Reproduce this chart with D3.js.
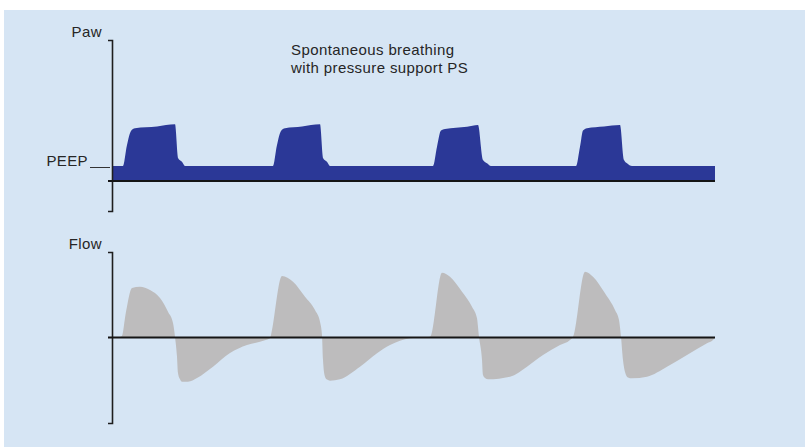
<!DOCTYPE html>
<html>
<head>
<meta charset="utf-8">
<script src="https://cdn.jsdelivr.net/npm/d3@7"></script>
<style>
  html, body { margin: 0; padding: 0; background: #ffffff; }
  svg { display: block; }
  text { font-family: "Liberation Sans", Arial, sans-serif; fill: #262626; letter-spacing: 0.4px; }
</style>
</head>
<body>
<svg id="chart" width="805" height="447"></svg>
<script>
// ---- Data (time in s, pressure in cmH2O, flow in L/min) ----
const titleLines = ["Spontaneous breathing", "with pressure support PS"];
const pawLabel = "Paw";
const flowLabel = "Flow";
const peepLabel = "PEEP";
const peepValue = 5;
const timeDomain = [0, 6.03];
const pawDomain = [-10, 47];
const flowDomain = [-60, 60];

const pawTime = [0, 0.11, 0.15, 0.19, 0.23, 0.45, 0.63, 0.66, 0.70, 0.73,
  1.61, 1.65, 1.69, 1.73, 1.90, 2.08, 2.11, 2.15, 2.18,
  3.21, 3.25, 3.29, 3.33, 3.55, 3.66, 3.71, 3.75, 3.79,
  4.64, 4.68, 4.71, 4.75, 4.92, 5.08, 5.12, 5.15, 5.20, 6.03];
const pawValues = [5, 5, 12, 16.7, 17.6, 18.2, 18.9, 7.7, 6.4, 5,
  5, 12, 16.7, 17.6, 18.2, 18.9, 7.7, 6.4, 5,
  5, 11.4, 16.8, 17.3, 18.1, 18.7, 7, 5.9, 5,
  5, 11.4, 16.8, 17.6, 18.2, 18.7, 7, 5.9, 5, 5];

const flowTime = [0, 0.08, 0.10, 0.14, 0.20, 0.28, 0.38, 0.48, 0.56, 0.61, 0.63, 0.65, 0.66, 0.68, 0.70, 0.76, 0.85, 1.01, 1.18, 1.35, 1.48, 1.58,
  1.59, 1.70, 1.81, 1.93, 2.03, 2.08, 2.10, 2.11, 2.13, 2.15, 2.18, 2.28, 2.48, 2.65, 2.78, 2.88, 2.98, 3.10,
  3.18, 3.30, 3.38, 3.50, 3.60, 3.65, 3.67, 3.70, 3.71, 3.73, 3.76, 3.98, 4.15, 4.31, 4.48, 4.58,
  4.61, 4.73, 4.81, 4.93, 5.03, 5.07, 5.09, 5.11, 5.14, 5.16, 5.20, 5.35, 5.55, 5.75, 5.95, 6.01, 6.03];
const flowValues = [0, 0.3, 1.0, 18, 34.7, 35.6, 33.3, 27.7, 18.1, 10.2, 0.6, -13.5, -24.9, -29.3, -31.0, -31.0, -28.4, -20.5, -10.9, -5.3, -2.9, -0.6,
  1.8, 43.2, 39.2, 28.6, 19.3, 11.1, 1.8, -15.8, -27.5, -29.5, -30.3, -29.3, -20.5, -11.1, -5.3, -2.3, -0.5, 0,
  0.6, 45.5, 42.7, 32.1, 21.6, 13.5, 0.6, -15.8, -26.3, -28.4, -29.3, -27.5, -20.5, -12.3, -5.3, -1.8,
  0.6, 46.2, 42.7, 31.0, 19.3, 12.3, 0.6, -15.8, -26.3, -28.0, -28.6, -27.5, -20.5, -12.3, -4.1, -1.8, 0];

const pawData = pawTime.map((t, i) => ({ t, v: pawValues[i] }));
const flowData = flowTime.map((t, i) => ({ t, v: flowValues[i] }));

// ---- Layout ----
const svg = d3.select("#chart");
svg.append("rect").attr("x", 4).attr("y", 10).attr("width", 801).attr("height", 437).attr("fill", "#d6e5f4");

const x = d3.scaleLinear().domain(timeDomain).range([112, 715]);
const yP = d3.scaleLinear().domain(pawDomain).range([211, 40]);
const yF = d3.scaleLinear().domain(flowDomain).range([423, 252]);

// Pressure area
svg.append("path").datum(pawData)
  .attr("fill", "#2b3897")
  .attr("d", d3.area().x(d => x(d.t)).y0(yP(0)).y1(d => yP(d.v)).curve(d3.curveMonotoneX));

// Flow area
svg.append("path").datum(flowData)
  .attr("fill", "#bdbcbd")
  .attr("d", d3.area().x(d => x(d.t)).y0(yF(0)).y1(d => yF(d.v)).curve(d3.curveMonotoneX));

// Axes (bracket style)
function bracketAxis(scale) {
  return d3.axisLeft(scale).tickValues([]).tickSizeOuter(4).tickFormat("");
}
const axP = svg.append("g").attr("transform", `translate(${x(0)},0)`).call(bracketAxis(yP));
const axF = svg.append("g").attr("transform", `translate(${x(0)},0)`).call(bracketAxis(yF));
[axP, axF].forEach(g => g.select(".domain").attr("stroke", "#1e1e1e").attr("stroke-width", 1.6));

// Zero lines
svg.append("line").attr("x1", x(0) - 4).attr("x2", x(timeDomain[1]))
  .attr("y1", yP(0)).attr("y2", yP(0)).attr("stroke", "#151515").attr("stroke-width", 2);
svg.append("line").attr("x1", x(0) - 4).attr("x2", x(timeDomain[1]))
  .attr("y1", yF(0)).attr("y2", yF(0)).attr("stroke", "#151515").attr("stroke-width", 2);

// PEEP marker
svg.append("line").attr("x1", 90).attr("x2", x(0) - 2)
  .attr("y1", yP(peepValue) + 1.5).attr("y2", yP(peepValue) + 1.5)
  .attr("stroke", "#333").attr("stroke-width", 1);
svg.append("text").attr("x", 88).attr("y", yP(peepValue)).attr("text-anchor", "end")
  .style("font-size", "15px").text(peepLabel);

// Axis labels
svg.append("text").attr("x", 102).attr("y", 37).attr("text-anchor", "end")
  .style("font-size", "15px").text(pawLabel);
svg.append("text").attr("x", 102).attr("y", 249).attr("text-anchor", "end")
  .style("font-size", "15px").text(flowLabel);

// Title
svg.append("text").attr("x", 291).attr("y", 55)
  .style("font-size", "15px")
  .selectAll("tspan").data(titleLines).join("tspan")
  .attr("x", 291).attr("dy", (d, i) => i === 0 ? 0 : 18).text(d => d);
</script>
</body>
</html>
